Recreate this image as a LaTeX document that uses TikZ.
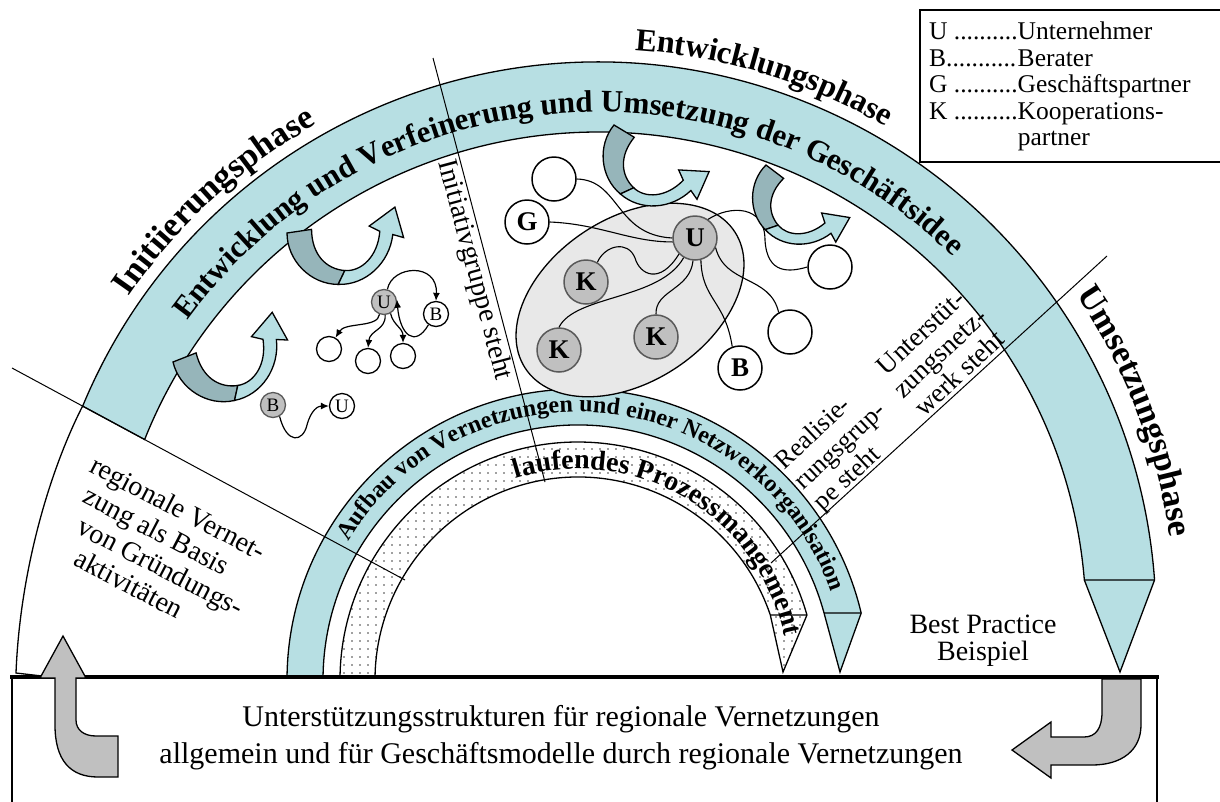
\documentclass[tikz,border=0pt]{standalone}
\usepackage{fontspec}
\setmainfont{Liberation Serif}
\usetikzlibrary{decorations.text, patterns, arrows.meta}

\definecolor{bandblue}{RGB}{183,223,227}
\definecolor{ribbondark}{RGB}{150,181,186}
\definecolor{nodegray}{RGB}{192,192,192}
\definecolor{cloudgray}{RGB}{232,232,232}

\pgfdeclarepatternformonly{sparsedots}{\pgfqpoint{-1pt}{-1pt}}{\pgfqpoint{1pt}{1pt}}{\pgfqpoint{8pt}{8pt}}{\pgfpathcircle{\pgfqpoint{0pt}{0pt}}{0.9pt}\pgfusepath{fill}}

\newcommand{\phasefont}{\bfseries\fontsize{32}{32}\selectfont}
\newcommand{\bigphasefont}{\bfseries\fontsize{34.5}{34.5}\selectfont}
\newcommand{\bandfont}{\bfseries\fontsize{31}{31}\selectfont}
\newcommand{\ringfont}{\bfseries\fontsize{24}{24}\selectfont}
\newcommand{\runfont}{\bfseries\fontsize{28}{28}\selectfont}

\tikzset{
	outline/.style={draw=black, line width=1.3pt},
	divider/.style={line width=1pt},
	link/.style={line width=1.1pt},
	flow/.style={line width=1.2pt, -{Latex[length=8pt, width=7pt]}},
	pnode/.style={circle, draw, line width=1.3pt, minimum size=25pt, inner sep=0pt, fill=white, font=\fontsize{19}{19}\selectfont},
	bignode/.style={circle, draw, line width=1.5pt, minimum size=44pt, inner sep=0pt, fill=white, font=\bfseries\fontsize{27}{27}\selectfont},
	actor/.style={fill=nodegray, draw=black!65},
	ribbon/.pic={
		\filldraw[fill=ribbondark, outline] (0,0) .. controls (2,-25) and (25,-45) .. (50,-43) -- (55,-30) .. controls (38,-30) and (24,-18) .. (22,5) -- cycle;
		\filldraw[fill=bandblue, outline] (50,-43) .. controls (75,-42) and (95,-20) .. (96,6) -- (106,4) -- (96,31) -- (74,12) -- (84,8) .. controls (84,-15) and (70,-30) .. (55,-30) -- cycle;
	}
}

\begin{document}
\begin{tikzpicture}[x=1pt, y=1pt]
	\useasboundingbox (0,0) rectangle (1220,-801);
	
	\begin{scope}[shift={(598,-620)}]
		\filldraw[fill=bandblue, outline] (157.46:558) arc[start angle=157.46, end angle=4.11, radius=558] -- (522,-52) -- (4.70:488) arc[start angle=4.70, end angle=158.29, radius=488] -- cycle;
		\draw[outline] (4.11:558) -- (4.70:488);
	\end{scope}
	\draw[outline] (82.6,-406.1) .. controls (50,-470) and (20,-570) .. (16,-673) -- (42,-676);
	
	\begin{scope}[shift={(578,-680)}]
		\filldraw[fill=bandblue, outline] (179.2:291) arc[start angle=179.2, end angle=13.3, radius=291] -- (262,8) -- (15.23:255) arc[start angle=15.23, end angle=179.1, radius=255] -- cycle;
		\draw[outline] (13.3:291) -- (15.23:255);
		\draw[outline, pattern=sparsedots, pattern color=black!75] (179:238) arc[start angle=179, end angle=15.85, radius=238] -- (205,8) -- (18.68:203) arc[start angle=18.68, end angle=179, radius=203] -- cycle;
		\draw[outline] (15.85:238) -- (18.68:203);
	\end{scope}
	
	\draw[divider] (12,-368) -- (405,-580);
	\draw[divider] (433,-58) -- (545,-482);
	\draw[divider] (1107,-256) -- (771,-563);
	
	% partner network
	\filldraw[fill=cloudgray, outline, rotate around={33:(630,-300)}] (630,-300) ellipse [x radius=125, y radius=82];
	\node[bignode, actor] (ua) at (695,-238) {U};
	\node[bignode, actor] (ka) at (586,-282) {K};
	\node[bignode, actor] (kb) at (559,-350) {K};
	\node[bignode, actor] (kc) at (656,-337) {K};
	\node[bignode] (ga) at (527,-222) {G};
	\node[bignode] (na) at (554,-179) {};
	\node[bignode] (ba) at (740,-368) {B};
	\node[bignode] (nb) at (830,-267) {};
	\node[bignode] (nc) at (790,-332) {};
	\draw[link] (na.east) .. controls (620,-180) and (615,-235) .. (ua.west);
	\draw[link] (ga.east) .. controls (600,-224) and (630,-242) .. (ua.190);
	\draw[link] (ua.225) .. controls (660,-285) and (640,-275) .. (635,-258) .. controls (628,-240) and (605,-245) .. (ka.60);
	\draw[link] (ua.240) .. controls (660,-300) and (575,-295) .. (kb.north);
	\draw[link] (ua.265) .. controls (690,-290) and (655,-290) .. (kc.north);
	\draw[link] (ua.285) .. controls (702,-300) and (725,-300) .. (ba.110);
	\draw[link] (ua.55) .. controls (730,-205) and (765,-205) .. (765,-240) .. controls (767,-275) and (790,-272) .. (nb.west);
	\draw[link] (ua.335) .. controls (725,-285) and (770,-275) .. (nc.120);
	
	% early network
	\node[pnode, actor] (ub) at (384,-302) {U};
	\node[pnode] (bb) at (436,-314) {B};
	\node[pnode] (ca) at (329,-349) {};
	\node[pnode] (cb) at (368,-361) {};
	\node[pnode] (cc) at (403,-356) {};
	\node[pnode, actor] (bc) at (273,-405) {B};
	\node[pnode] (uc) at (342,-406) {U};
	\draw[flow] (ub.250) .. controls (378,-328) and (345,-322) .. (ca.60);
	\draw[flow] (ub.275) .. controls (386,-330) and (370,-330) .. (cb.north);
	\draw[flow] (ub.300) .. controls (393,-325) and (403,-328) .. (cc.north);
	\draw[flow] (ub.75) .. controls (392,-265) and (438,-262) .. (bb.north);
	\draw[flow] (bb.235) .. controls (415,-348) and (400,-335) .. (ub.10);
	\draw[flow] (bc.300) .. controls (287,-445) and (303,-442) .. (307,-425) .. controls (311,-410) and (318,-406) .. (uc.west);
	
	\pic[rotate=8.7, scale=1.1] at (173,-362) {ribbon};
	\pic[rotate=-4.4, scale=1.1] at (287,-233) {ribbon};
	\pic[rotate=-44, scale=1.05] at (614,-125) {ribbon};
	\pic[rotate=-50, scale=0.98] at (766,-165) {ribbon};
	
	\begin{scope}[shift={(598,-620)}]
		\path[decorate, decoration={text along path, text align=center, text={|\bigphasefont|Initiierungsphase}}] (152.5:570) arc[start angle=152.5, end angle=112.5, radius=570];
		\path[decorate, decoration={text along path, text align=center, text={|\phasefont|Entwicklungsphase}}] (93:571) arc[start angle=93, end angle=53, radius=571];
		\path[decorate, decoration={text along path, text align=center, text={|\bigphasefont|Umsetzungsphase}}] (41.2:578) arc[start angle=41.2, end angle=1.2, radius=578];
		\path[decorate, decoration={text along path, text align=center, text={|\bandfont|Entwicklung und Verfeinerung und Umsetzung der Geschäftsidee}}] (154.8:508) arc[start angle=154.8, end angle=34.8, radius=508];
	\end{scope}
	\begin{scope}[shift={(578,-680)}]
		\path[decorate, decoration={text along path, text align=center, text={|\ringfont|Aufbau von Vernetzungen und einer Netzwerkorganisation}}] (160:268) arc[start angle=160, end angle=8, radius=268];
		\path[decorate, decoration={text along path, text align=center, text={|\runfont|laufendes Prozessmangement}}] (125:211) arc[start angle=125, end angle=-6, radius=211];
	\end{scope}
	
	\node[rotate=-75, inner sep=0pt, font=\fontsize{28}{28}\selectfont] (initiativ) at (474,-270) {Initiativgruppe steht};
	\node[rotate=43, anchor=north west, align=left, inner sep=0pt, font=\fontsize{26}{28}\selectfont] (realisierung) at (772,-457) {Realisie-\\rungsgrup-\\pe steht};
	\node[rotate=43, align=center, inner sep=0pt, font=\fontsize{27}{28}\selectfont] (unterstuetzung) at (940,-353) {Unterstüt-\\zungsnetz-\\werk steht};
	\node[rotate=-27.5, anchor=north west, align=left, inner sep=0pt, font=\fontsize{28}{30}\selectfont] (regional) at (97,-454) {regionale Vernet-\\\hspace*{8pt}zung als Basis\\\hspace*{17pt}von Gründungs-\\\hspace*{29pt}aktivitäten};
	\node[align=center, font=\fontsize{28}{27}\selectfont] (bestpractice) at (983,-641) {Best Practice\\Beispiel};
	
	% support box
	\draw[line width=2.5pt] (12,-677) rectangle (1157,-815);
	\draw[line width=4pt] (10,-677) -- (1159,-677);
	\node[align=center, font=\fontsize{30}{37}\selectfont] (support) at (561,-738) {Unterstützungsstrukturen für regionale Vernetzungen\\allgemein und für Geschäftsmodelle durch regionale Vernetzungen};
	\filldraw[fill=nodegray, outline] (63,-636) -- (86,-678) -- (76,-678) -- (76,-720) .. controls (76,-730) and (84,-736) .. (96,-736) -- (118,-736) -- (118,-777) -- (98,-777) .. controls (70,-777) and (55,-760) .. (55,-725) -- (55,-678) -- (40,-678) -- cycle;
	\filldraw[fill=nodegray, outline] (1102,-679) -- (1141,-679) -- (1141,-725) .. controls (1141,-750) and (1122,-765) .. (1092,-765) -- (1051,-765) -- (1051,-778) -- (1012,-750) -- (1051,-722) -- (1051,-737) -- (1084,-737) .. controls (1096,-737) and (1102,-728) .. (1102,-712) -- cycle;
	
	% legend
	\draw[line width=1.3pt] (920,-10) rectangle (1230,-162);
	\node[anchor=north west, inner sep=0pt, font=\fontsize{25.5}{26.5}\selectfont] (legend) at (929,-21) {\begin{tabular}{@{}l@{}l@{}}
			U ..........&Unternehmer\\
			B...........&Berater\\
			G ..........&Geschäftspartner\\
			K ..........&Kooperations-\\
			&partner
	\end{tabular}};
\end{tikzpicture}
\end{document}
